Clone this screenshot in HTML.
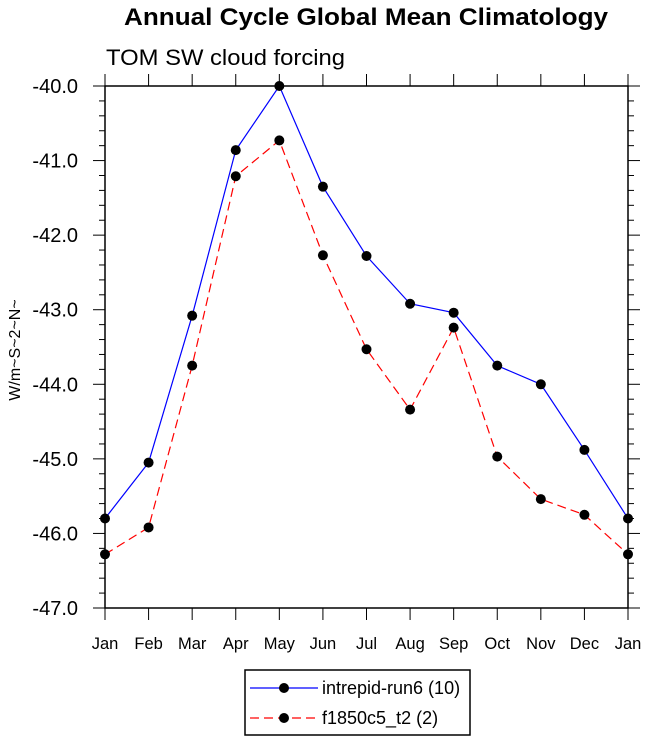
<!DOCTYPE html>
<html><head><meta charset="utf-8"><style>body{margin:0;background:#fff}svg text{font-family:"Liberation Sans",sans-serif}</style></head>
<body>
<svg id="c" width="647" height="744" xmlns="http://www.w3.org/2000/svg">
<text x="366" y="25" font-size="24" font-weight="bold" text-anchor="middle" textLength="484" lengthAdjust="spacingAndGlyphs">Annual Cycle Global Mean Climatology</text>
<text x="106" y="65" font-size="22" textLength="239" lengthAdjust="spacingAndGlyphs">TOM SW cloud forcing</text>
<text transform="translate(20,350) rotate(-90)" font-size="16" text-anchor="middle">W/m~S~2~N~</text>
<g id="axes"></g><g id="series"></g>
<g>
<rect x="245" y="670" width="225" height="65" fill="none" stroke="#000" stroke-width="1.5"/>
<line x1="250" y1="688" x2="318" y2="688" stroke="#0000ff" stroke-width="1.2"/><circle cx="284" cy="688" r="5"/>
<text x="322" y="694" font-size="18">intrepid-run6 (10)</text>
<line x1="250" y1="718" x2="318" y2="718" stroke="#ff0000" stroke-width="1.2" stroke-dasharray="9,5"/><circle cx="284" cy="718" r="5"/>
<text x="322" y="724" font-size="18">f1850c5_t2 (2)</text>
</g>
</svg>
<script>
const months=["Jan","Feb","Mar","Apr","May","Jun","Jul","Aug","Sep","Oct","Nov","Dec","Jan"];
const run6=[-45.8,-45.05,-43.08,-40.86,-40.0,-41.35,-42.28,-42.92,-43.04,-43.75,-44.0,-44.88,-45.8];
const f1850=[-46.28,-45.92,-43.75,-41.21,-40.73,-42.27,-43.53,-44.34,-43.24,-44.97,-45.54,-45.75,-46.28];
const yTicks=[-40,-41,-42,-43,-44,-45,-46,-47];
const L=105,R=628,T=86,B=608;
const X=i=>L+i*(R-L)/12, Y=v=>T+(-40-v)*(B-T)/7;
const NS="http://www.w3.org/2000/svg";
function mk(t,a,p){const e=document.createElementNS(NS,t);for(const k in a)e.setAttribute(k,a[k]);p.appendChild(e);return e;}
const ax=document.getElementById('axes');
const fr=mk('rect',{x:L,y:T,width:R-L,height:B-T,fill:'none',stroke:'#000','stroke-width':1.5},ax);


for(let v=-40;v>=-47.001;v-=0.2){const maj=Math.abs(v-Math.round(v))<1e-6;const l=maj?12:6;const y=Y(v);
mk('line',{x1:L-l,y1:y,x2:L,y2:y,stroke:'#000','stroke-width':1},ax);mk('line',{x1:R,y1:y,x2:R+l,y2:y,stroke:'#000','stroke-width':1},ax);}
yTicks.forEach(v=>{const t=mk('text',{x:L-27,y:Y(v)+7,'font-size':20,'text-anchor':'end'},ax);t.textContent=v.toFixed(1);

});
months.forEach((m,i)=>{const x=X(i);mk('line',{x1:x,y1:B,x2:x,y2:B+12,stroke:'#000'},ax);mk('line',{x1:x,y1:T-12,x2:x,y2:T,stroke:'#000'},ax);
const t=mk('text',{x:x,y:B+41,'font-size':16.5,'text-anchor':'middle'},ax);t.textContent=m;

});
const sg=document.getElementById('series');
function draw(d,col,dash,name){const p=mk('polyline',{points:d.map((v,i)=>X(i)+','+Y(v)).join(' '),fill:'none',stroke:col,'stroke-width':1.2,'stroke-dasharray':dash},sg);


d.forEach((v,i)=>{const c=mk('circle',{cx:X(i),cy:Y(v),r:5},sg);

});}
draw(f1850,'#ff0000','9,5','f1850');
draw(run6,'#0000ff','none','run6');
</script>
</body></html>
